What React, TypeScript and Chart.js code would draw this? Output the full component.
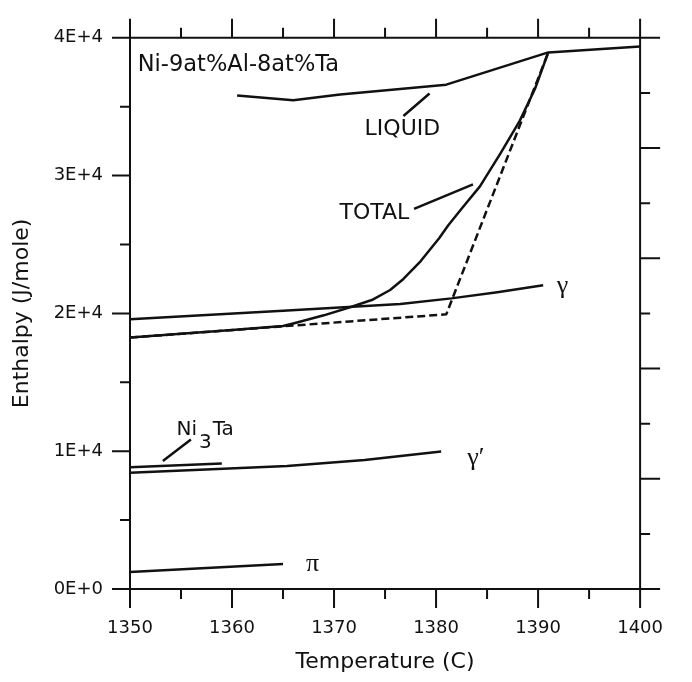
import React, { useEffect, useRef } from 'react';
import { Chart, registerables } from 'chart.js';

Chart.register(...registerables);

// ---- data (Temperature in C, Enthalpy in J/mole) ----
const T_LIQUID = [1360.5, 1366, 1370.6, 1381, 1391, 1400];
const H_LIQUID = [35820, 35460, 35890, 36600, 38940, 39360];

const T_TOTAL = [1350, 1355, 1360, 1365, 1366, 1369, 1371.8, 1373.7, 1375.5, 1376.8, 1378.5, 1380.3, 1381.2, 1382.5, 1384.3, 1386.3, 1388.2, 1389.7, 1391];
const H_TOTAL = [18250, 18530, 18800, 19080, 19270, 19860, 20500, 20970, 21700, 22500, 23800, 25460, 26400, 27590, 29220, 31600, 33970, 36300, 38940];

const T_TOTAL_DASHED = [1350, 1381, 1391];
const H_TOTAL_DASHED = [18250, 19930, 38940];

const T_GAMMA = [1350, 1365, 1376.5, 1381.5, 1386, 1390.5];
const H_GAMMA = [19570, 20200, 20690, 21090, 21540, 22040];

const T_GAMMA_PRIME = [1350, 1358, 1365.4, 1373, 1380.5];
const H_GAMMA_PRIME = [8440, 8690, 8920, 9360, 9980];

const T_NI3TA = [1350, 1359];
const H_NI3TA = [8840, 9100];

const T_PI = [1350, 1365];
const H_PI = [1230, 1820];

const X_MIN = 1350;
const X_MAX = 1400;
const Y_MIN = 0;
const Y_MAX = 40000;

const TITLE_TEXT = 'Ni-9at%Al-8at%Ta';
const X_TITLE = 'Temperature (C)';
const Y_TITLE = 'Enthalpy (J/mole)';

const FONT = '"DejaVu Sans", sans-serif';
const SERIF = '"Liberation Serif", "DejaVu Serif", serif';

function yLabel(v: number): string {
  if (v % 10000 !== 0) return '';
  if (v === 0) return '0E+0';
  return `${v / 10000}E+4`;
}

export default function App() {
  const ref = useRef<HTMLCanvasElement>(null);

  useEffect(() => {
    const canvas = ref.current;
    if (!canvas) return;
    const pts = (xs: number[], ys: number[]) => xs.map((x, i) => ({ x, y: ys[i] }));
    const ds = (label: string, xs: number[], ys: number[], dash: number[] = []) => ({
      label,
      data: pts(xs, ys),
      showLine: true,
      borderColor: '#111',
      backgroundColor: '#111',
      borderWidth: 2.5,
      pointRadius: 0,
      pointHoverRadius: 0,
      fill: false,
      tension: 0,
      borderDash: dash,
      borderJoinStyle: 'round' as const,
    });

    const axesPlugin = {
      id: 'customAxes',
      afterDraw(chart: any) {
        const { ctx, chartArea } = chart;
        const { left, right, top, bottom } = chartArea;
        const xs = chart.scales.x;
        const ys = chart.scales.y;
        const y2 = chart.scales.y2;
        ctx.save();
        ctx.strokeStyle = '#111';
        ctx.lineWidth = 2;
        ctx.lineCap = 'butt';
        ctx.beginPath();
        ctx.rect(left, top, right - left, bottom - top);
        ctx.stroke();
        ctx.beginPath();
        for (const t of xs.ticks) {
          const px = xs.getPixelForValue(t.value);
          const len = t.value % 10 === 0 ? 19 : 10;
          ctx.moveTo(px, bottom);
          ctx.lineTo(px, bottom + len);
          ctx.moveTo(px, top);
          ctx.lineTo(px, top - len);
        }
        for (const t of ys.ticks) {
          const py = ys.getPixelForValue(t.value);
          const len = t.value % 10000 === 0 ? 18 : 10;
          ctx.moveTo(left, py);
          ctx.lineTo(left - len, py);
        }
        if (y2 && y2.ticks && y2.ticks.length) {
          for (const t of y2.ticks) {
            const py = y2.getPixelForValue(t.value);
            const len = t.value % 2 === 0 ? 20 : 10;
            ctx.moveTo(right, py);
            ctx.lineTo(right + len, py);
          }
        }
        ctx.stroke();

        const X = (v: number) => xs.getPixelForValue(v);
        const Y = (v: number) => ys.getPixelForValue(v);

        // leader lines
        ctx.lineWidth = 2.5;
        ctx.beginPath();
        ctx.moveTo(X(1376.8), Y(34326));
        ctx.lineTo(X(1379.36), Y(35957));
        ctx.moveTo(X(1377.84), Y(27589));
        ctx.lineTo(X(1383.62), Y(29362));
        ctx.moveTo(X(1353.22), Y(9291));
        ctx.lineTo(X(1355.97), Y(10851));
        ctx.stroke();

        // text labels
        ctx.fillStyle = '#111';
        ctx.textBaseline = 'middle';
        ctx.textAlign = 'left';
        ctx.font = `22.5px ${FONT}`;
        ctx.fillText(TITLE_TEXT, X(1350.76), Y(38014));
        ctx.textAlign = 'center';
        ctx.font = `22px ${FONT}`;
        ctx.fillText('LIQUID', X(1376.7), Y(33333));
        ctx.fillText('TOTAL', X(1373.96), Y(27234));

        // Ni3Ta with subscript
        ctx.textAlign = 'left';
        ctx.textBaseline = 'alphabetic';
        ctx.font = `20px ${FONT}`;
        const nx = X(1354.55);
        const ny = Y(11210);
        ctx.fillText('Ni', nx, ny);
        const wNi = ctx.measureText('Ni').width;
        ctx.fillText('3', nx + wNi + 2, ny + 13);
        const w3 = ctx.measureText('3').width;
        ctx.fillText('Ta', nx + wNi + w3 + 3, ny);

        // Greek labels
        ctx.textBaseline = 'middle';
        ctx.textAlign = 'center';
        ctx.font = `26px ${SERIF}`;
        ctx.fillText('\u03B3', X(1392.4), Y(21990));
        ctx.fillText('\u03B3\u2032', X(1383.9), Y(9500));
        ctx.fillText('\u03C0', X(1367.9), Y(1800));
        ctx.restore();
      },
    };

    const chart = new Chart(canvas, {
      type: 'scatter',
      data: {
        datasets: [
          ds('LIQUID', T_LIQUID, H_LIQUID),
          ds('TOTAL', T_TOTAL, H_TOTAL),
          ds('TOTAL (dashed)', T_TOTAL_DASHED, H_TOTAL_DASHED, [8, 4]),
          ds('γ', T_GAMMA, H_GAMMA),
          ds("γ'", T_GAMMA_PRIME, H_GAMMA_PRIME),
          ds('Ni3Ta', T_NI3TA, H_NI3TA),
          ds('π', T_PI, H_PI),
        ],
      },
      options: {
        animation: false,
        responsive: false,
        maintainAspectRatio: false,
        events: [],
        layout: { padding: { top: 25, right: 34, left: 0, bottom: 0 } },
        plugins: {
          legend: { display: false },
          tooltip: { enabled: false },
        },
        scales: {
          x: {
            type: 'linear',
            min: X_MIN,
            max: X_MAX,
            position: 'bottom',
            grid: { display: false, drawTicks: false },
            border: { display: false },
            ticks: {
              stepSize: 5,
              autoSkip: false,
              maxRotation: 0,
              padding: 29,
              color: '#111',
              font: { family: FONT, size: 18 },
              callback: (v: any) => (Number(v) % 10 === 0 ? String(v) : ''),
            },
            title: {
              display: true,
              text: X_TITLE,
              color: '#111',
              font: { family: FONT, size: 22 },
              padding: { top: 0, bottom: 7 },
            },
            afterFit: (s: any) => {
              s.height = 93;
            },
          },
          y: {
            type: 'linear',
            min: Y_MIN,
            max: Y_MAX,
            position: 'left',
            grid: { display: false, drawTicks: false },
            border: { display: false },
            ticks: {
              stepSize: 5000,
              autoSkip: false,
              padding: 27,
              color: '#111',
              font: { family: FONT, size: 18 },
              callback: (v: any) => yLabel(Number(v)),
            },
            title: {
              display: true,
              text: Y_TITLE,
              color: '#111',
              font: { family: FONT, size: 22 },
              padding: { top: 9, bottom: 0 },
            },
            afterFit: (s: any) => {
              s.width = 130;
            },
          },
          y2: {
            type: 'linear',
            min: 0,
            max: 10,
            position: 'right',
            display: false,
            ticks: { stepSize: 1, autoSkip: false },
          },
        },
      },
      plugins: [axesPlugin],
    } as any);

    return () => chart.destroy();
  }, []);

  return (
    <div style={{ position: 'absolute', left: 0, top: 0, width: 692, height: 682, background: '#fff' }}>
      <canvas ref={ref} width={692} height={682} style={{ width: 692, height: 682, display: 'block' }} />
    </div>
  );
}
